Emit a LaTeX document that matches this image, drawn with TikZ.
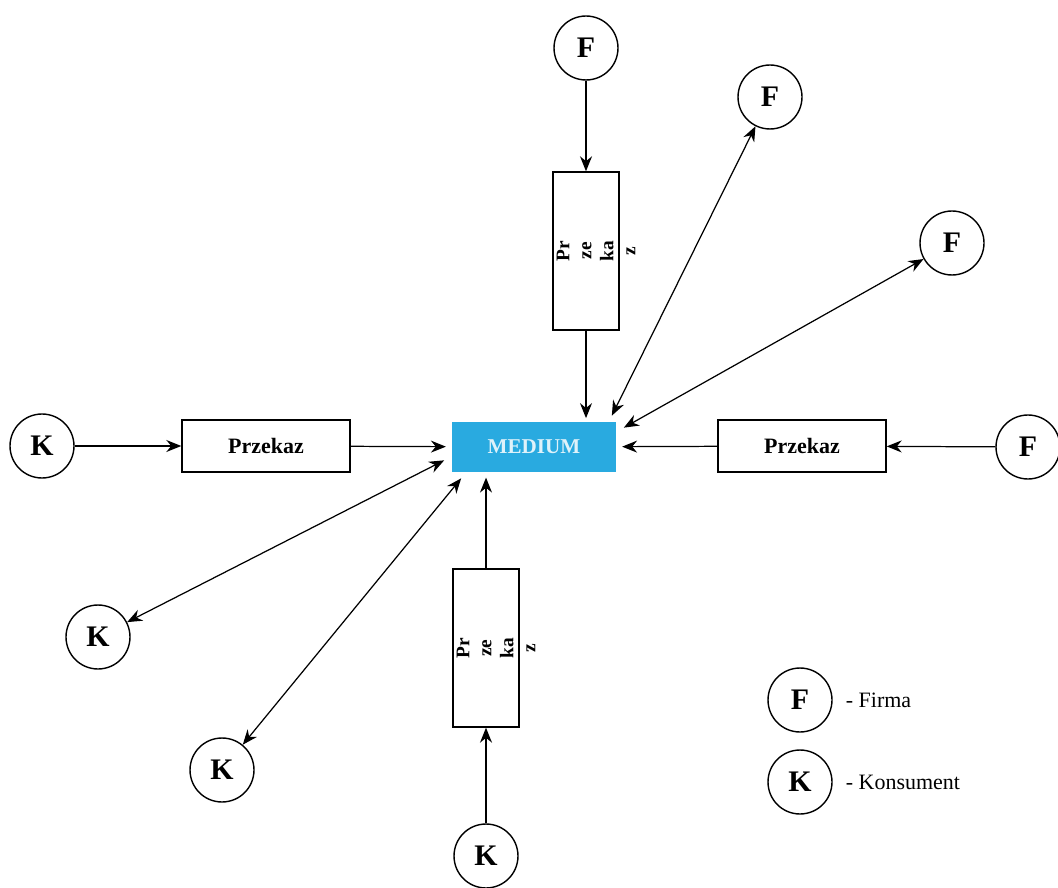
\documentclass[tikz,border=0pt]{standalone}
\usepackage{fontspec}
\setmainfont{Liberation Serif}
\usepackage{xcolor}
\usepackage{tikz}
\usetikzlibrary{arrows.meta,positioning,calc}

\definecolor{mediumblue}{RGB}{41,170,224}

\begin{document}
\begin{tikzpicture}[x=0.02cm, y=-0.02cm,
    actor/.style={circle, draw, line width=0.8pt, minimum size=1.28cm,
      inner sep=0pt, font=\fontsize{17}{20}\selectfont\bfseries},
    msgbox/.style={draw, line width=0.8pt, minimum width=3.36cm,
      minimum height=1.04cm, font=\fontsize{12.5}{15}\selectfont\bfseries},
    vmsgbox/.style={draw, line width=0.8pt, minimum width=1.32cm,
      minimum height=3.16cm},
    vtext/.style={rotate=90, align=center, inner sep=0pt,
      font=\fontsize{11}{12.5}\selectfont\bfseries},
    flow/.style={-{Stealth[length=3mm,width=2.4mm]}, line width=0.7pt},
    both/.style={{Stealth[length=3mm,width=2.4mm]}-{Stealth[length=3mm,width=2.4mm]},
      line width=0.7pt}]
    \useasboundingbox (0,0) rectangle (1058,888);

    % centre
    \node[fill=mediumblue, minimum width=3.3cm, minimum height=1cm,
      text=white!85!mediumblue, font=\fontsize{12}{14}\selectfont\bfseries]
      (medium) at (534,447) {MEDIUM};

    % messages
    \node[msgbox] (msgL) at (266,446) {Przekaz};
    \node[msgbox] (msgR) at (802,446) {Przekaz};
    \node[vmsgbox] (msgT) at (586,251) {};
    \node[vtext] (txtT) at (596,251) {Pr\\ze\\ka\\z};
    \node[vmsgbox] (msgB) at (486,648) {};
    \node[vtext] (txtB) at (496,648) {Pr\\ze\\ka\\z};

    % firms and consumers
    \node[actor] (F1) at (586,48) {F};
    \node[actor] (F2) at (770,97) {F};
    \node[actor] (F3) at (952,243) {F};
    \node[actor] (F4) at (1028,447) {F};
    \node[actor] (K1) at (42,446) {K};
    \node[actor] (K2) at (98,637) {K};
    \node[actor] (K3) at (222,770) {K};
    \node[actor] (K4) at (486,856) {K};

    % one-way flows
    \draw[flow] (F1) -- (msgT);
    \draw[flow, shorten >=2pt] (msgT.south) -- (msgT.south |- medium.north);
    \draw[flow] (K1) -- (msgL);
    \draw[flow, shorten >=3pt] (msgL) -- (medium);
    \draw[flow] (F4) -- (msgR);
    \draw[flow, shorten >=3pt] (msgR) -- (medium);
    \draw[flow] (K4) -- (msgB);
    \draw[flow, shorten >=3pt] (msgB.north) -- (msgB.north |- medium.south);

    % two-way flows
    \draw[both] ($(medium.north east)+(-5,-6)$) -- (F2);
    \draw[both] ($(medium.north east)+(7,6)$) -- (F3);
    \draw[both] ($(medium.south west)+(-7,-12)$) -- (K2);
    \draw[both] ($(medium.south west)+(10,6)$) -- (K3);

    % legend
    \node[actor] (legF) at (800,700) {F};
    \node[actor] (legK) at (800,782) {K};
    \node[right=4pt of legF, font=\fontsize{12.5}{15}\selectfont] (legFtxt) {- Firma};
    \node[right=4pt of legK, font=\fontsize{12.5}{15}\selectfont] (legKtxt) {- Konsument};
  \end{tikzpicture}
\end{document}
